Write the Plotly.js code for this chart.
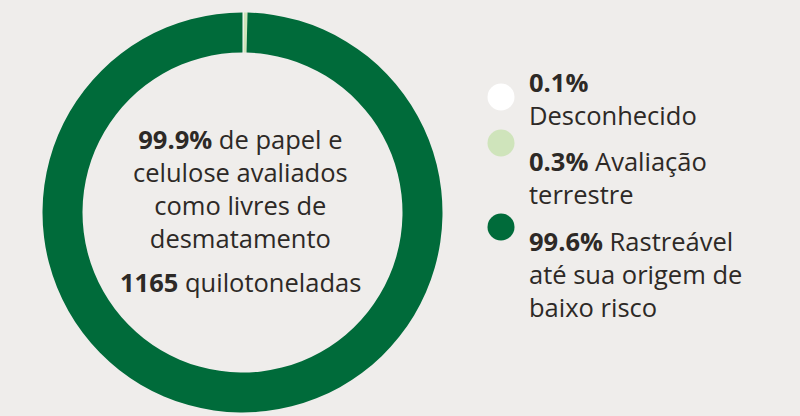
<!DOCTYPE html>
<html><head><meta charset="utf-8">
<script src="https://cdn.plot.ly/plotly-3.0.1.min.js"></script>
<style>html,body{margin:0;padding:0;background:#efedeb;}#c{width:800px;height:416px;}</style>
</head><body><div id="c"></div>
<script>
const categories = ["Desconhecido", "Avaliação terrestre", "Rastreável até sua origem de baixo risco"];
const shares = [0.1, 0.3, 99.6];
const pctLabels = ["0.1%", "0.3%", "99.6%"];
const colors = ["#ffffff", "#cfe4bb", "#006b3a"];
const centerPct = "99.9%";
const centerTonnes = "1165";

const ink = "#2d2926";
const font = "'Open Sans', sans-serif";
const FS = 25.5;
const W = 800, H = 416;
const cx = 242.5, cy = 212.5, R = 200;

const trace = {
  type: "pie",
  values: shares,
  labels: categories,
  marker: {colors: colors, line: {width: 0}},
  hole: 0.8,
  sort: false,
  direction: "clockwise",
  rotation: 0,
  textinfo: "none",
  hoverinfo: "label+percent",
  showlegend: false,
  domain: {x: [(cx - R) / W, (cx + R) / W], y: [(H - cy - R) / H, (H - cy + R) / H]}
};

const legendDotY = [97, 143, 227];
const shapes = legendDotY.map((y, i) => ({
  type: "circle", xref: "paper", yref: "paper",
  x0: (501 - 13.5) / W, x1: (501 + 13.5) / W,
  y0: (H - y - 13.5) / H, y1: (H - y + 13.5) / H,
  fillcolor: colors[i], line: {width: 0}
}));

// [text, first baseline px]
const legendGroups = [
  ["<b>" + pctLabels[0] + "</b><br>Desconhecido", 91],
  ["<b>" + pctLabels[1] + "</b> Avaliação<br>terrestre", 170.5],
  ["<b>" + pctLabels[2] + "</b> Rastreável<br>até sua origem de<br>baixo risco", 250.5]
];
const centerGroups = [
  ["<b>" + centerPct + "</b> de papel e<br>celulose avaliados<br>como livres de<br>desmatamento", 148.5],
  ["<b>" + centerTonnes + "</b> quilotoneladas", 291.7]
];

const asc = 1 + 1.069 * FS;
const annotations = [];
legendGroups.forEach(([t, b]) => annotations.push({
  xref: "paper", yref: "paper", x: 527 / W, y: (H - (b - asc)) / H,
  xanchor: "left", yanchor: "top", align: "left", showarrow: false,
  text: t, font: {family: font, size: FS, color: ink}
}));
centerGroups.forEach(([t, b]) => annotations.push({
  xref: "paper", yref: "paper", x: 240.5 / W, y: (H - (b - asc)) / H,
  xanchor: "center", yanchor: "top", align: "center", showarrow: false,
  text: t, font: {family: font, size: FS, color: ink}
}));

Plotly.newPlot("c", [trace], {
  width: W, height: H,
  margin: {l: 0, r: 0, t: 0, b: 0},
  paper_bgcolor: "#efedeb", plot_bgcolor: "#efedeb",
  shapes: shapes, annotations: annotations
}, {displayModeBar: false, staticPlot: true});
</script></body></html>
